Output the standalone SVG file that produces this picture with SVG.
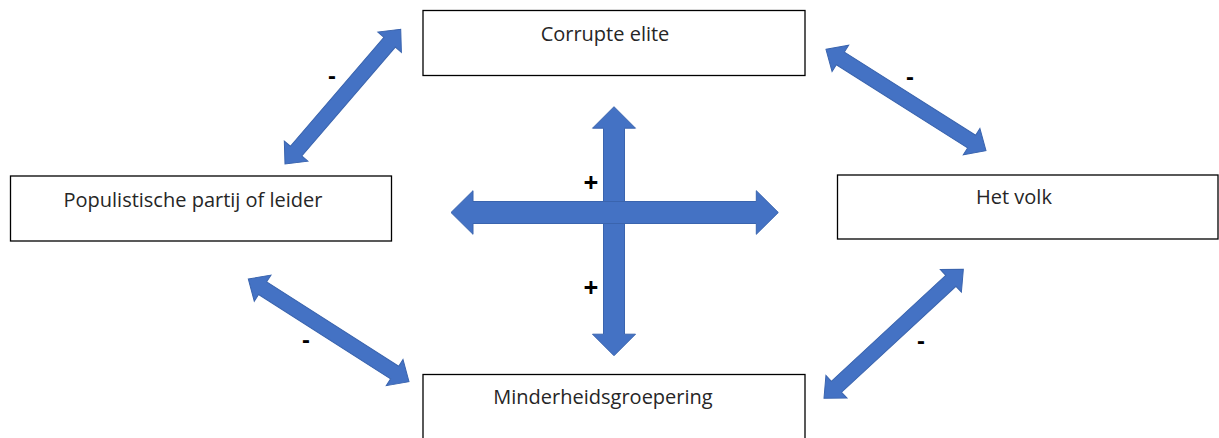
<svg xmlns="http://www.w3.org/2000/svg" width="1219" height="438" viewBox="0 0 1219 438">
<style>
.box{fill:#fff;stroke:#000;stroke-width:1.3}
.lbl{font-family:"Open Sans","Noto Sans",sans-serif;font-size:20px;fill:#262626;text-anchor:middle}
.arr{fill:#4472C4;stroke:#3A64AE;stroke-width:1}
.sign{font-family:"Open Sans","Noto Sans",sans-serif;font-weight:bold;fill:#000;text-anchor:middle}
.minus{font-size:23px}
.plus{font-size:26px}
</style>
<rect width="1219" height="438" fill="#fff"/>
<g id="connectors">
<path class="arr" transform="translate(285,164) rotate(-49.34)" d="M0,0 L17,-15.5 L17,-7.5 L160.6,-7.5 L160.6,-15.5 L177.6,0 L160.6,15.5 L160.6,7.5 L17,7.5 L17,15.5 Z"/>
<path class="arr" transform="translate(826,49.3) rotate(32.37)" d="M0,0 L17,-15.5 L17,-7.5 L172.4,-7.5 L172.4,-15.5 L189.4,0 L172.4,15.5 L172.4,7.5 L17,7.5 L17,15.5 Z"/>
<path class="arr" transform="translate(248.3,279) rotate(32.59)" d="M0,0 L17,-15.5 L17,-7.5 L173.7,-7.5 L173.7,-15.5 L190.7,0 L173.7,15.5 L173.7,7.5 L17,7.5 L17,15.5 Z"/>
<path class="arr" transform="translate(824,398.3) rotate(-42.8)" d="M0,0 L17,-15.5 L17,-7.5 L172.9,-7.5 L172.9,-15.5 L189.9,0 L172.9,15.5 L172.9,7.5 L17,7.5 L17,15.5 Z"/>
<path class="arr" d="M614,106.7 L635.5,128.2 L624.5,128.2 L624.5,334.2 L635.5,334.2 L614,355.7 L592.5,334.2 L603.5,334.2 L603.5,128.2 L592.5,128.2 Z"/>
<path class="arr" d="M451,212.5 L473,190.7 L473,201.5 L756.3,201.5 L756.3,190.7 L778.3,212.5 L756.3,234.3 L756.3,223.5 L473,223.5 L473,234.3 Z"/>
<text class="sign minus" x="332" y="84">-</text>
<text class="sign minus" x="910" y="85">-</text>
<text class="sign minus" x="306" y="348">-</text>
<text class="sign minus" x="921" y="349">-</text>
<text class="sign plus" x="591" y="192">+</text>
<text class="sign plus" x="591" y="297">+</text>
</g>
<g id="corrupte-elite">
<rect class="box" x="423" y="10.5" width="382" height="65"/>
<text class="lbl" x="605" y="41">Corrupte elite</text>
</g>
<g id="populistische-partij">
<rect class="box" x="10.5" y="176" width="381" height="65"/>
<text class="lbl" x="193" y="207">Populistische partij of leider</text>
</g>
<g id="het-volk">
<rect class="box" x="837.5" y="175" width="380.5" height="64"/>
<text class="lbl" x="1014" y="204">Het volk</text>
</g>
<g id="minderheidsgroepering">
<rect class="box" x="423" y="374.5" width="382" height="70"/>
<text class="lbl" x="603" y="404">Minderheidsgroepering</text>
</g>
</svg>
